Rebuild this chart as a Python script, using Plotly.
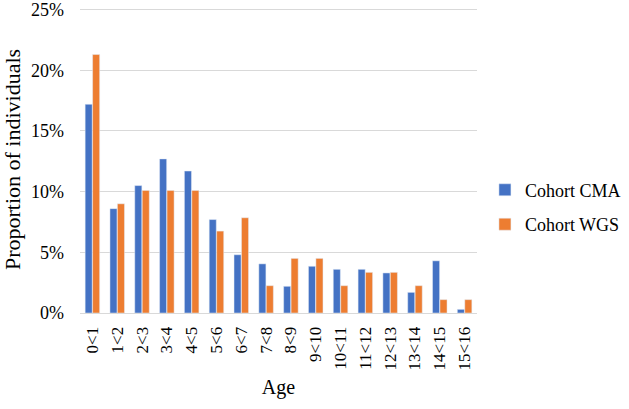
import plotly.graph_objects as go

categories = ["0<1", "1<2", "2<3", "3<4", "4<5", "5<6", "6<7", "7<8", "8<9", "9<10",
              "10<11", "11<12", "12<13", "13<14", "14<15", "15<16"]
cohort_cma = [17.2, 8.6, 10.5, 12.7, 11.7, 7.7, 4.8, 4.05, 2.2, 3.85,
              3.6, 3.6, 3.3, 1.7, 4.3, 0.3]
cohort_wgs = [21.3, 9.0, 10.1, 10.1, 10.1, 6.75, 7.85, 2.25, 4.5, 4.5,
              2.25, 3.35, 3.35, 2.25, 1.1, 1.1]
y_ticks = [0, 5, 10, 15, 20, 25]
y_tick_labels = ["0%", "5%", "10%", "15%", "20%", "25%"]

font_family = "Liberation Serif"

fig = go.Figure()
fig.add_trace(go.Bar(x=categories, y=cohort_cma, name="Cohort CMA",
                     marker_color="#4472C4", legendgroup="a"))
fig.add_trace(go.Bar(x=categories, y=cohort_wgs, name="Cohort WGS",
                     marker_color="#ED7D31", legendgroup="b"))

fig.update_layout(
    width=629, height=409,
    margin=dict(l=80, r=152, t=6, b=96, autoexpand=False),
    paper_bgcolor="white", plot_bgcolor="white",
    barmode="group", bargap=0.4, bargroupgap=0.05,
    font=dict(family=font_family, size=18, color="#000000"),
    legend=dict(x=1.02, y=0.345, xanchor="left", yanchor="middle",
                tracegroupgap=8, font=dict(size=18, family=font_family),
                itemwidth=30),
    xaxis=dict(title=dict(text="Age", font=dict(size=20, family=font_family), standoff=10),
               tickangle=-90, showgrid=False, ticks="",
               tickfont=dict(size=17, family=font_family),
               ticklabelstandoff=6, automargin=False,
               showline=True, linecolor="#d9d9d9"),
    yaxis=dict(title=dict(text="Proportion of individuals", font=dict(size=22, family=font_family), standoff=5),
               range=[0, 25.3], tickvals=y_ticks, ticktext=y_tick_labels,
               tickfont=dict(size=18, family=font_family),
               ticklabeloverflow="allow",
               showgrid=True, gridcolor="#d9d9d9", gridwidth=1,
               zeroline=False, ticks="", ticklabelstandoff=15, automargin=False),
)

fig.write_html("out.html", config={"displayModeBar": False},
               post_script="document.body.style.margin='0';")
